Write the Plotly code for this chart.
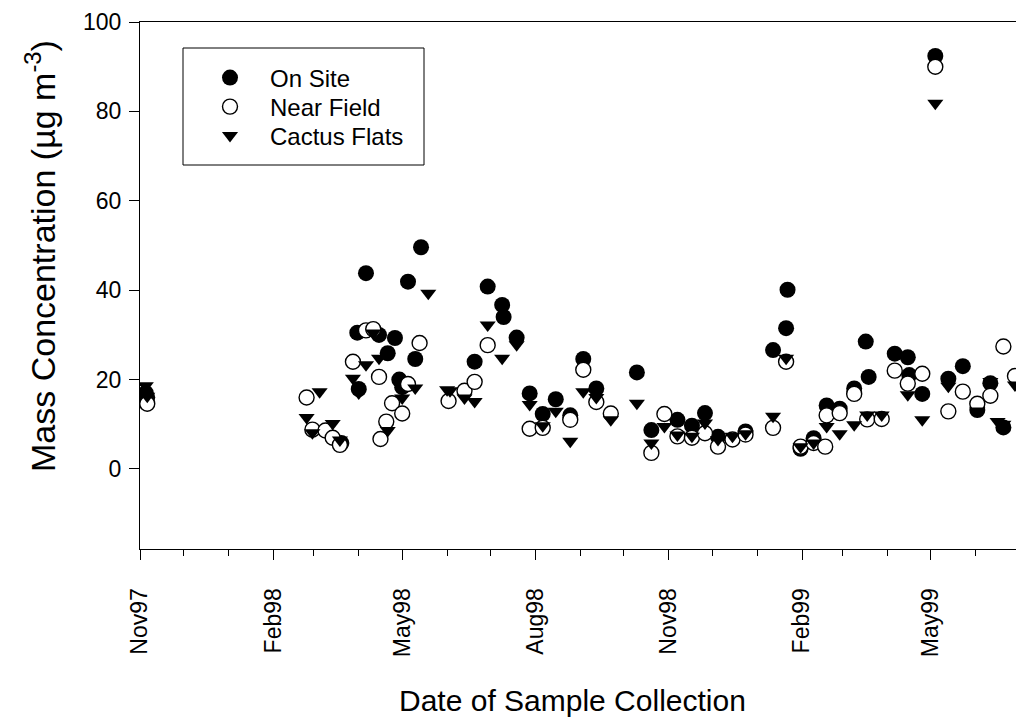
import plotly.graph_objects as go

# ---------------- data ----------------
dates_on = ["1997-11-05","1997-11-06","1998-03-20","1998-03-31","1998-04-01","1998-04-06","1998-04-15",
            "1998-04-21","1998-04-26","1998-04-29","1998-05-01","1998-05-05","1998-05-10","1998-05-14",
            "1998-06-20","1998-06-29","1998-07-09","1998-07-10","1998-07-19","1998-07-28","1998-08-06",
            "1998-08-15","1998-08-25","1998-09-03","1998-09-12","1998-10-10","1998-10-20","1998-11-07",
            "1998-11-17","1998-11-26","1998-12-05","1998-12-24","1999-01-12","1999-01-21","1999-01-22",
            "1999-01-31","1999-02-09","1999-02-18","1999-02-27","1999-03-09","1999-03-17","1999-03-19",
            "1999-04-06","1999-04-15","1999-04-16","1999-04-25","1999-05-04","1999-05-13","1999-05-23",
            "1999-06-02","1999-06-11","1999-06-20"]
on_site = [17.0, 16.0, 5.8, 30.5, 17.9, 43.8, 30.0, 25.9, 29.3, 20.0, 18.3, 41.9, 24.6, 49.6,
           24.0, 40.8, 36.7, 34.0, 29.4, 16.9, 12.3, 15.6, 12.0, 24.6, 18.0, 21.6, 8.7, 11.0,
           9.7, 12.5, 7.2, 8.4, 26.6, 31.5, 40.1, 4.5, 6.9, 14.2, 13.5, 18.0, 28.5, 20.6,
           25.8, 25.0, 21.0, 16.8, 92.4, 20.2, 23.0, 13.2, 19.2, 9.3]

dates_nf = ["1997-11-06","1998-02-24","1998-02-28","1998-03-09","1998-03-14","1998-03-19","1998-03-28",
            "1998-04-06","1998-04-11","1998-04-15","1998-04-16","1998-04-20","1998-04-24","1998-05-01",
            "1998-05-05","1998-05-13","1998-06-02","1998-06-13","1998-06-20","1998-06-29","1998-07-28",
            "1998-08-06","1998-08-25","1998-09-03","1998-09-12","1998-09-22","1998-10-20","1998-10-29",
            "1998-11-07","1998-11-17","1998-11-26","1998-12-05","1998-12-15","1998-12-24","1999-01-12",
            "1999-01-21","1999-01-31","1999-02-09","1999-02-17","1999-02-18","1999-02-27","1999-03-09",
            "1999-03-18","1999-03-28","1999-04-06","1999-04-15","1999-04-25","1999-05-04","1999-05-13",
            "1999-05-23","1999-06-02","1999-06-11","1999-06-20","1999-06-28"]
near_field = [14.6, 16.0, 8.8, 8.6, 7.0, 5.4, 24.0, 31.0, 31.3, 20.6, 6.7, 10.6, 14.7, 12.4,
              19.0, 28.2, 15.2, 17.5, 19.5, 27.7, 9.0, 9.2, 11.0, 22.2, 15.0, 12.4, 3.6, 12.3,
              7.3, 7.0, 8.0, 5.0, 6.6, 7.7, 9.2, 24.0, 5.0, 5.8, 5.0, 12.0, 12.5, 16.8,
              11.1, 11.2, 22.0, 19.1, 21.3, 90.0, 12.9, 17.3, 14.6, 16.4, 27.4, 20.8]

dates_cf = ["1997-11-05","1997-11-06","1998-02-24","1998-02-28","1998-03-05","1998-03-14","1998-03-19",
            "1998-03-28","1998-04-01","1998-04-06","1998-04-11","1998-04-15","1998-04-21","1998-05-01",
            "1998-05-10","1998-05-19","1998-06-01","1998-06-03","1998-06-13","1998-06-20","1998-06-29",
            "1998-07-09","1998-07-19","1998-07-28","1998-08-06","1998-08-15","1998-08-25","1998-09-03",
            "1998-09-12","1998-09-22","1998-10-10","1998-10-20","1998-10-29","1998-11-07","1998-11-17",
            "1998-11-26","1998-12-05","1998-12-15","1998-12-24","1999-01-12","1999-01-21","1999-01-31",
            "1999-02-09","1999-02-18","1999-02-27","1999-03-09","1999-03-18","1999-03-28","1999-04-15",
            "1999-04-25","1999-05-04","1999-05-13","1999-06-02","1999-06-11","1999-06-16","1999-06-20",
            "1999-06-28"]
cactus_flats = [18.6, 16.3, 11.5, 8.1, 17.3, 10.2, 6.5, 20.3, 17.0, 23.3, 30.4, 24.8, 8.6, 15.9,
                18.1, 39.3, 17.7, 17.5, 15.9, 15.1, 32.2, 24.8, 27.8, 14.4, 9.7, 12.9, 6.2, 17.3,
                16.0, 11.0, 14.7, 5.8, 9.5, 7.6, 7.3, 10.3, 6.6, 7.3, 7.9, 11.8, 24.8, 5.0,
                5.8, 9.5, 7.9, 9.9, 12.1, 12.1, 16.6, 11.0, 81.8, 18.5, 13.0, 19.6, 10.6, 10.0,
                18.8]

y_ticks = [0, 20, 40, 60, 80, 100]
series_names = ["On Site", "Near Field", "Cactus Flats"]

# ---------------- figure ----------------
FONT = "Arial, 'Liberation Sans', sans-serif"
W, H = 1016, 721
L, R, T, B = 140, 0, 22, 172
pw, ph = W - L - R, H - T - B

def px_x(p):
    return (p - L) / pw

def px_y(p):
    return (H - B - p) / ph

fig = go.Figure()
fig.add_trace(go.Scatter(
    x=dates_on, y=on_site, mode="markers", name=series_names[0], legend="legend",
    marker=dict(symbol="circle", size=16, color="black", line=dict(width=0)),
))
fig.add_trace(go.Scatter(
    x=dates_nf, y=near_field, mode="markers", name=series_names[1], legend="legend2",
    marker=dict(symbol="circle", size=15, color="white", line=dict(width=1.4, color="black")),
))
fig.add_trace(go.Scatter(
    x=dates_cf, y=cactus_flats, mode="markers", name=series_names[2], legend="legend3",
    marker=dict(symbol="triangle-down", size=14, color="black", line=dict(width=0)),
))

def legend_row(center_px):
    return dict(
        x=px_x(190), y=px_y(center_px), xanchor="left", yanchor="middle",
        bgcolor="rgba(0,0,0,0)", borderwidth=0,
        font=dict(family=FONT, size=24, color="black"),
        itemwidth=70,
    )

fig.update_layout(
    width=W, height=H,
    margin=dict(l=L, r=R, t=T, b=B, pad=0),
    paper_bgcolor="white", plot_bgcolor="white",
    font=dict(family=FONT, size=23, color="black"),
    showlegend=True,
    legend=legend_row(78),
    legend2=legend_row(107),
    legend3=legend_row(136),
    xaxis=dict(
        type="date",
        range=["1997-11-01", "1999-06-28 17:00"],
        tick0="1997-11-01", dtick="M3", tickformat="%b%y",
        tickangle=-90, ticks="outside", ticklen=10, tickwidth=1, tickcolor="black",
        ticklabelstandoff=19,
        showline=True, linecolor="black", linewidth=1, mirror=True,
        showgrid=False, zeroline=False,
        tickfont=dict(family=FONT, size=23, color="black"),
        minor=dict(dtick="M1", tick0="1997-11-01", ticks="outside", ticklen=6,
                   tickwidth=1, tickcolor="black", showgrid=False),
    ),
    yaxis=dict(
        range=[-17.9, 100], tickvals=y_ticks,
        ticks="outside", ticklen=10, tickwidth=1, tickcolor="black",
        ticklabelstandoff=3,
        showline=True, linecolor="black", linewidth=1, mirror=False,
        showgrid=False, zeroline=False,
        tickfont=dict(family=FONT, size=23, color="black"),
    ),
    shapes=[dict(
        type="rect", xref="paper", yref="paper",
        x0=px_x(183), x1=px_x(424), y0=px_y(165), y1=px_y(48),
        line=dict(color="black", width=1), fillcolor="rgba(0,0,0,0)",
    )],
    annotations=[
        dict(text="Date of Sample Collection", xref="paper", yref="paper",
             x=px_x(572), y=px_y(700), xanchor="center", yanchor="middle",
             showarrow=False, font=dict(family=FONT, size=30, color="black")),
        dict(text="Mass Concentration (µg m<sup>-3</sup>)", xref="paper", yref="paper",
             x=px_x(41), y=px_y(256), xanchor="center", yanchor="middle", textangle=-90,
             showarrow=False, font=dict(family=FONT, size=34, color="black")),
    ],
)

fig.write_html("out.html")
